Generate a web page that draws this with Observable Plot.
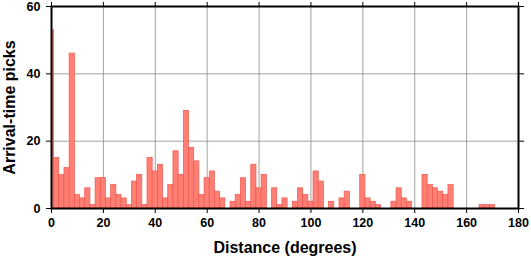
<!DOCTYPE html>
<html><head><meta charset="utf-8">
<script src="https://cdn.jsdelivr.net/npm/d3@7"></script>
<script src="https://cdn.jsdelivr.net/npm/@observablehq/plot@0.6"></script>
<style>body{margin:0;background:#fff}</style>
</head><body><div id="chart"></div>
<script>
// Bin centres (degrees), each bin 2 degrees wide
const binCenters = [0,2,4,6,8,10,12,14,16,18,20,22,24,26,28,30,32,34,36,38,40,42,44,46,48,50,52,54,56,58,60,62,64,66,68,70,72,74,76,78,80,82,84,86,88,90,92,94,96,98,100,102,104,106,108,110,112,114,116,118,120,122,124,126,128,130,132,134,136,138,140,142,144,146,148,150,152,154,156,158,160,162,164,166,168,170,172,174,176,178];
const pickCounts = [53,15,10,12,46,4,3,6,1,9,9,3,7,4,3,1,8,10,1,15,11,13,3,7,17,10,29,18,14,4,9,11,5,3,0,2,4,9,2,13,6,10,0,6,1,3,0,2,6,4,2,11,8,0,2,0,3,5,0,0,10,3,2,1,0,0,2,6,3,2,0,0,10,7,6,5,4,7,0,0,0,0,0,1,1,1,0,0,0,0];
const xTicks = [0,20,40,60,80,100,120,140,160,180];
const yTicks = [0,20,40,60];
const xTitle = "Distance (degrees)";
const yTitle = "Arrival-time picks";

const data = binCenters.map((c, i) => ({c, n: pickCounts[i]})).filter(d => d.n > 0);
const font = "'Liberation Sans', Arial, Helvetica, sans-serif";

const chart = Plot.plot({
  width: 531, height: 258,
  marginLeft: 51, marginRight: 13, marginTop: 6, marginBottom: 50,
  style: {fontFamily: font, fontWeight: "bold", fontSize: "12.5px", color: "#000", background: "#fff"},
  x: {domain: [0, 180]},
  y: {domain: [0, 60]},
  marks: [
    Plot.gridX(xTicks, {stroke: "#8c8c8c", strokeOpacity: 1, strokeWidth: 0.8}),
    Plot.gridY(yTicks, {stroke: "#8c8c8c", strokeOpacity: 1, strokeWidth: 0.8}),
    Plot.rectY(data, {x1: d => d.c - 1, x2: d => d.c + 1, y: "n", fill: "#ff7f75", stroke: "#f2554d", strokeWidth: 0.7, clip: true}),
    Plot.axisX(xTicks, {anchor: "bottom", tickSize: 5, tickPadding: 5, label: null}),
    Plot.axisX(xTicks, {anchor: "top", tickSize: 5, tickFormat: () => "", label: null}),
    Plot.axisY(yTicks, {anchor: "left", tickSize: 5, tickPadding: 6, label: null}),
    Plot.axisY(yTicks, {anchor: "right", tickSize: 5, tickFormat: () => "", label: null}),
    Plot.frame({stroke: "#000", strokeWidth: 2}),
    Plot.text([xTitle], {frameAnchor: "bottom", dy: 39, lineAnchor: "middle", textAnchor: "middle", text: d => d, fontSize: 16, fontWeight: "bold", fill: "#000"}),
    Plot.text([yTitle], {frameAnchor: "left", dx: -42, rotate: -90, lineAnchor: "middle", textAnchor: "middle", text: d => d, fontSize: 16, fontWeight: "bold", fill: "#000"})
  ]
});
document.getElementById("chart").appendChild(chart);
</script>
</body></html>
